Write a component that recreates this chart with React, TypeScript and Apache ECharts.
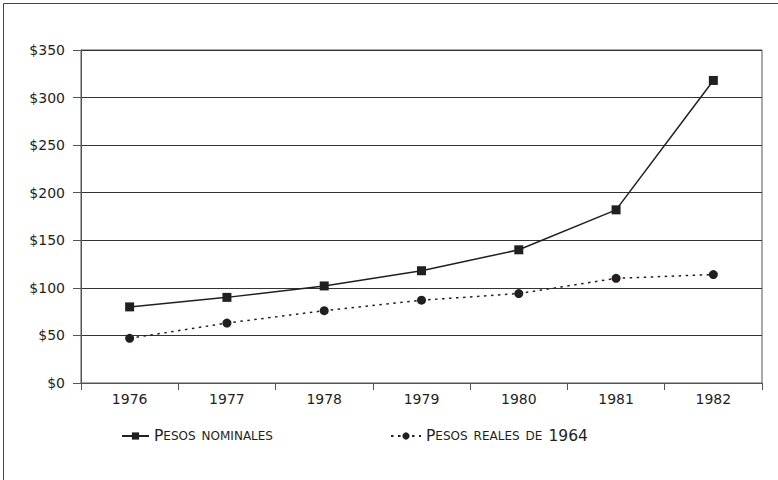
import React, { useEffect, useRef } from "react";
import * as echarts from "echarts";

const years = ["1976", "1977", "1978", "1979", "1980", "1981", "1982"];
const nominales = [80, 90, 102, 118, 140, 182, 318];
const reales = [47, 63, 76, 87, 94, 110, 114];
const yTicks = [0, 50, 100, 150, 200, 250, 300, 350];
const seriesNames = ["Pesos nominales", "Pesos reales de 1964"];

const INK = "#231f20";
const FONT = "'DejaVu Sans', 'Noto Sans', sans-serif";

function smallCaps(s: string): string {
  return s
    .split(" ")
    .map((w) => {
      if (/^[0-9]/.test(w)) return `{big|${w}}`;
      const first = w.charAt(0);
      const rest = w.slice(1).toUpperCase();
      if (first === first.toUpperCase() && /[A-Za-z]/.test(first)) {
        return `{big|${first}}` + (rest ? `{sm|${rest}}` : "");
      }
      return `{sm|${w.toUpperCase()}}`;
    })
    .join("{gap| }");
}

const legendText = {
  color: INK,
  fontFamily: FONT,
  rich: {
    big: { fontSize: 15.5, fontFamily: FONT, color: INK },
    sm: { fontSize: 12, fontFamily: FONT, color: INK },
    gap: { fontSize: 12, fontFamily: FONT, color: INK, width: 6 },
  },
};

export default function App() {
  const ref = useRef<HTMLDivElement>(null);
  useEffect(() => {
    if (!ref.current) return;
    const chart = echarts.init(ref.current, undefined, { renderer: "svg" });
    chart.setOption({
      animation: false,
      backgroundColor: "#fff",
      graphic: [
        { type: "line", shape: { x1: 3.5, y1: 3.5, x2: 778, y2: 3.5 }, style: { stroke: "#444", lineWidth: 1 } },
        { type: "line", shape: { x1: 3.5, y1: 3.5, x2: 3.5, y2: 480 }, style: { stroke: "#444", lineWidth: 1 } },
      ],
      grid: {
        left: 81,
        top: 50,
        right: 16,
        bottom: 97,
        show: true,
        borderColor: "#555",
        borderWidth: 1,
        backgroundColor: "transparent",
      },
      legend: [
        {
          data: [seriesNames[0]],
          left: 116,
          top: 423,
          itemWidth: 27,
          itemHeight: 9,
          itemGap: 7,
          formatter: (name: string) => smallCaps(name),
          textStyle: legendText,
        },
        {
          data: [seriesNames[1]],
          left: 385,
          top: 423,
          itemWidth: 30,
          itemHeight: 9,
          formatter: (name: string) => smallCaps(name),
          textStyle: legendText,
        },
      ],
      xAxis: {
        type: "category",
        data: years,
        boundaryGap: true,
        axisLine: { show: true, lineStyle: { color: "#555", width: 1 } },
        axisTick: { show: true, length: 7, lineStyle: { color: "#555" } },
        axisLabel: { color: INK, fontFamily: FONT, fontSize: 14, margin: 9 },
        splitLine: { show: false },
      },
      yAxis: {
        type: "value",
        min: 0,
        max: 350,
        interval: 50,
        axisLine: { show: true, lineStyle: { color: "#555", width: 1 } },
        axisTick: { show: true, length: 8, lineStyle: { color: "#555" } },
        axisLabel: {
          color: INK,
          fontFamily: FONT,
          fontSize: 14,
          margin: 16,
          formatter: (v: number) => (yTicks.includes(v) ? "$" + v : ""),
        },
        splitLine: { show: true, lineStyle: { color: "#333", width: 1 } },
      },
      series: [
        {
          name: seriesNames[0],
          type: "line",
          data: nominales,
          symbol: "rect",
          symbolSize: 9,
          itemStyle: { color: INK },
          lineStyle: { color: INK, width: 1.5, type: "solid" },
        },
        {
          name: seriesNames[1],
          type: "line",
          data: reales,
          symbol: "circle",
          symbolSize: 9,
          itemStyle: { color: INK },
          lineStyle: { color: INK, width: 1.5, type: [2.5, 4.5] },
        },
      ],
    });
    return () => chart.dispose();
  }, []);
  return <div ref={ref} style={{ width: 778, height: 480, position: "absolute", left: 0, top: 0 }} />;
}
